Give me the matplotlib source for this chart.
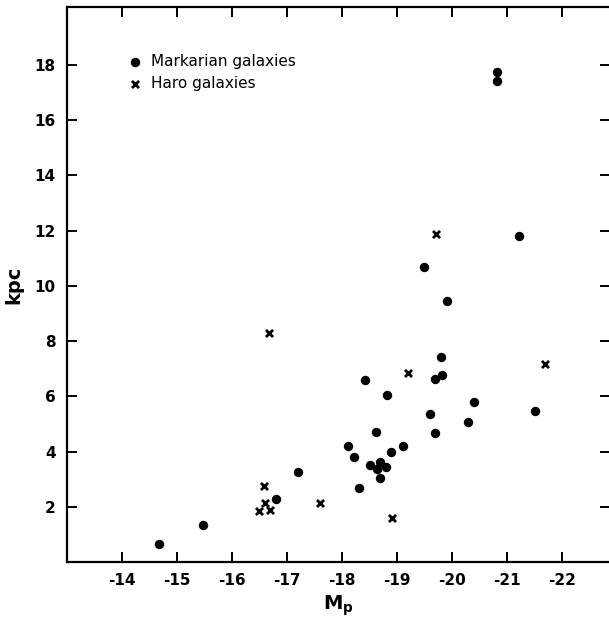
import matplotlib
matplotlib.use('Agg')
import matplotlib.pyplot as plt

plt.rcParams['font.family'] = ['DejaVu Sans']
plt.rcParams['axes.unicode_minus'] = False

# Markarian galaxies (circles)
mrk_mp = [-14.68, -15.48, -16.79, -17.19, -18.10, -18.21, -18.30, -18.42,
          -18.50, -18.61, -18.64, -18.68, -18.68, -18.80, -18.81, -18.88,
          -19.10, -19.48, -19.59, -19.69, -19.68, -19.81, -19.80, -19.91,
          -20.28, -20.39, -20.81, -20.81, -21.21, -21.50]
mrk_kpc = [0.65, 1.35, 2.30, 3.25, 4.22, 3.81, 2.69, 6.60,
           3.50, 4.72, 3.37, 3.61, 3.04, 3.43, 6.05, 4.00,
           4.22, 10.67, 5.35, 4.66, 6.63, 6.78, 7.42, 9.46,
           5.07, 5.78, 17.73, 17.43, 11.80, 5.48]

# Haro galaxies (crosses)
haro_mp = [-16.58, -16.60, -16.48, -16.69, -16.67, -17.59, -18.90, -19.19,
           -19.71, -21.68]
haro_kpc = [2.74, 2.14, 1.84, 1.88, 8.30, 2.14, 1.59, 6.85,
            11.88, 7.16]

xticks = [-14, -15, -16, -17, -18, -19, -20, -21, -22]
yticks = [2, 4, 6, 8, 10, 12, 14, 16, 18]

fig = plt.figure(figsize=(6.09, 6.2), dpi=100)
ax = fig.add_axes([0.110, 0.0935, 0.892, 0.8952])

ax.scatter(mrk_mp, mrk_kpc, s=46, c='black', marker='o', linewidths=0,
           label='Markarian galaxies')
ax.scatter(haro_mp, haro_kpc, s=26, c='black', marker='x', linewidths=2,
           label='Haro galaxies')

ax.set_xlim(-13, -22.87)
ax.set_ylim(0, 20.1)
ax.set_xticks(xticks)
ax.set_xticklabels([str(t) for t in xticks], fontweight='bold')
ax.set_yticks(yticks)
ax.set_yticklabels([str(t) for t in yticks], fontweight='bold')

for side in ax.spines.values():
    side.set_linewidth(1.6)
ax.tick_params(direction='in', length=7, width=1.4, top=True, right=True,
               labelsize=11, pad=8)

ax.set_xlabel(r'$\mathbf{M}_\mathbf{p}$', fontsize=14, labelpad=4)
ax.set_ylabel('kpc', fontsize=14, fontweight='bold', labelpad=8)

ax.legend(loc='upper left', bbox_to_anchor=(0.112, 0.915), frameon=False,
          borderpad=0, borderaxespad=0, handlelength=1, handletextpad=0.5,
          fontsize=11, labelspacing=0.45)

fig.savefig('out.png', dpi=100)
